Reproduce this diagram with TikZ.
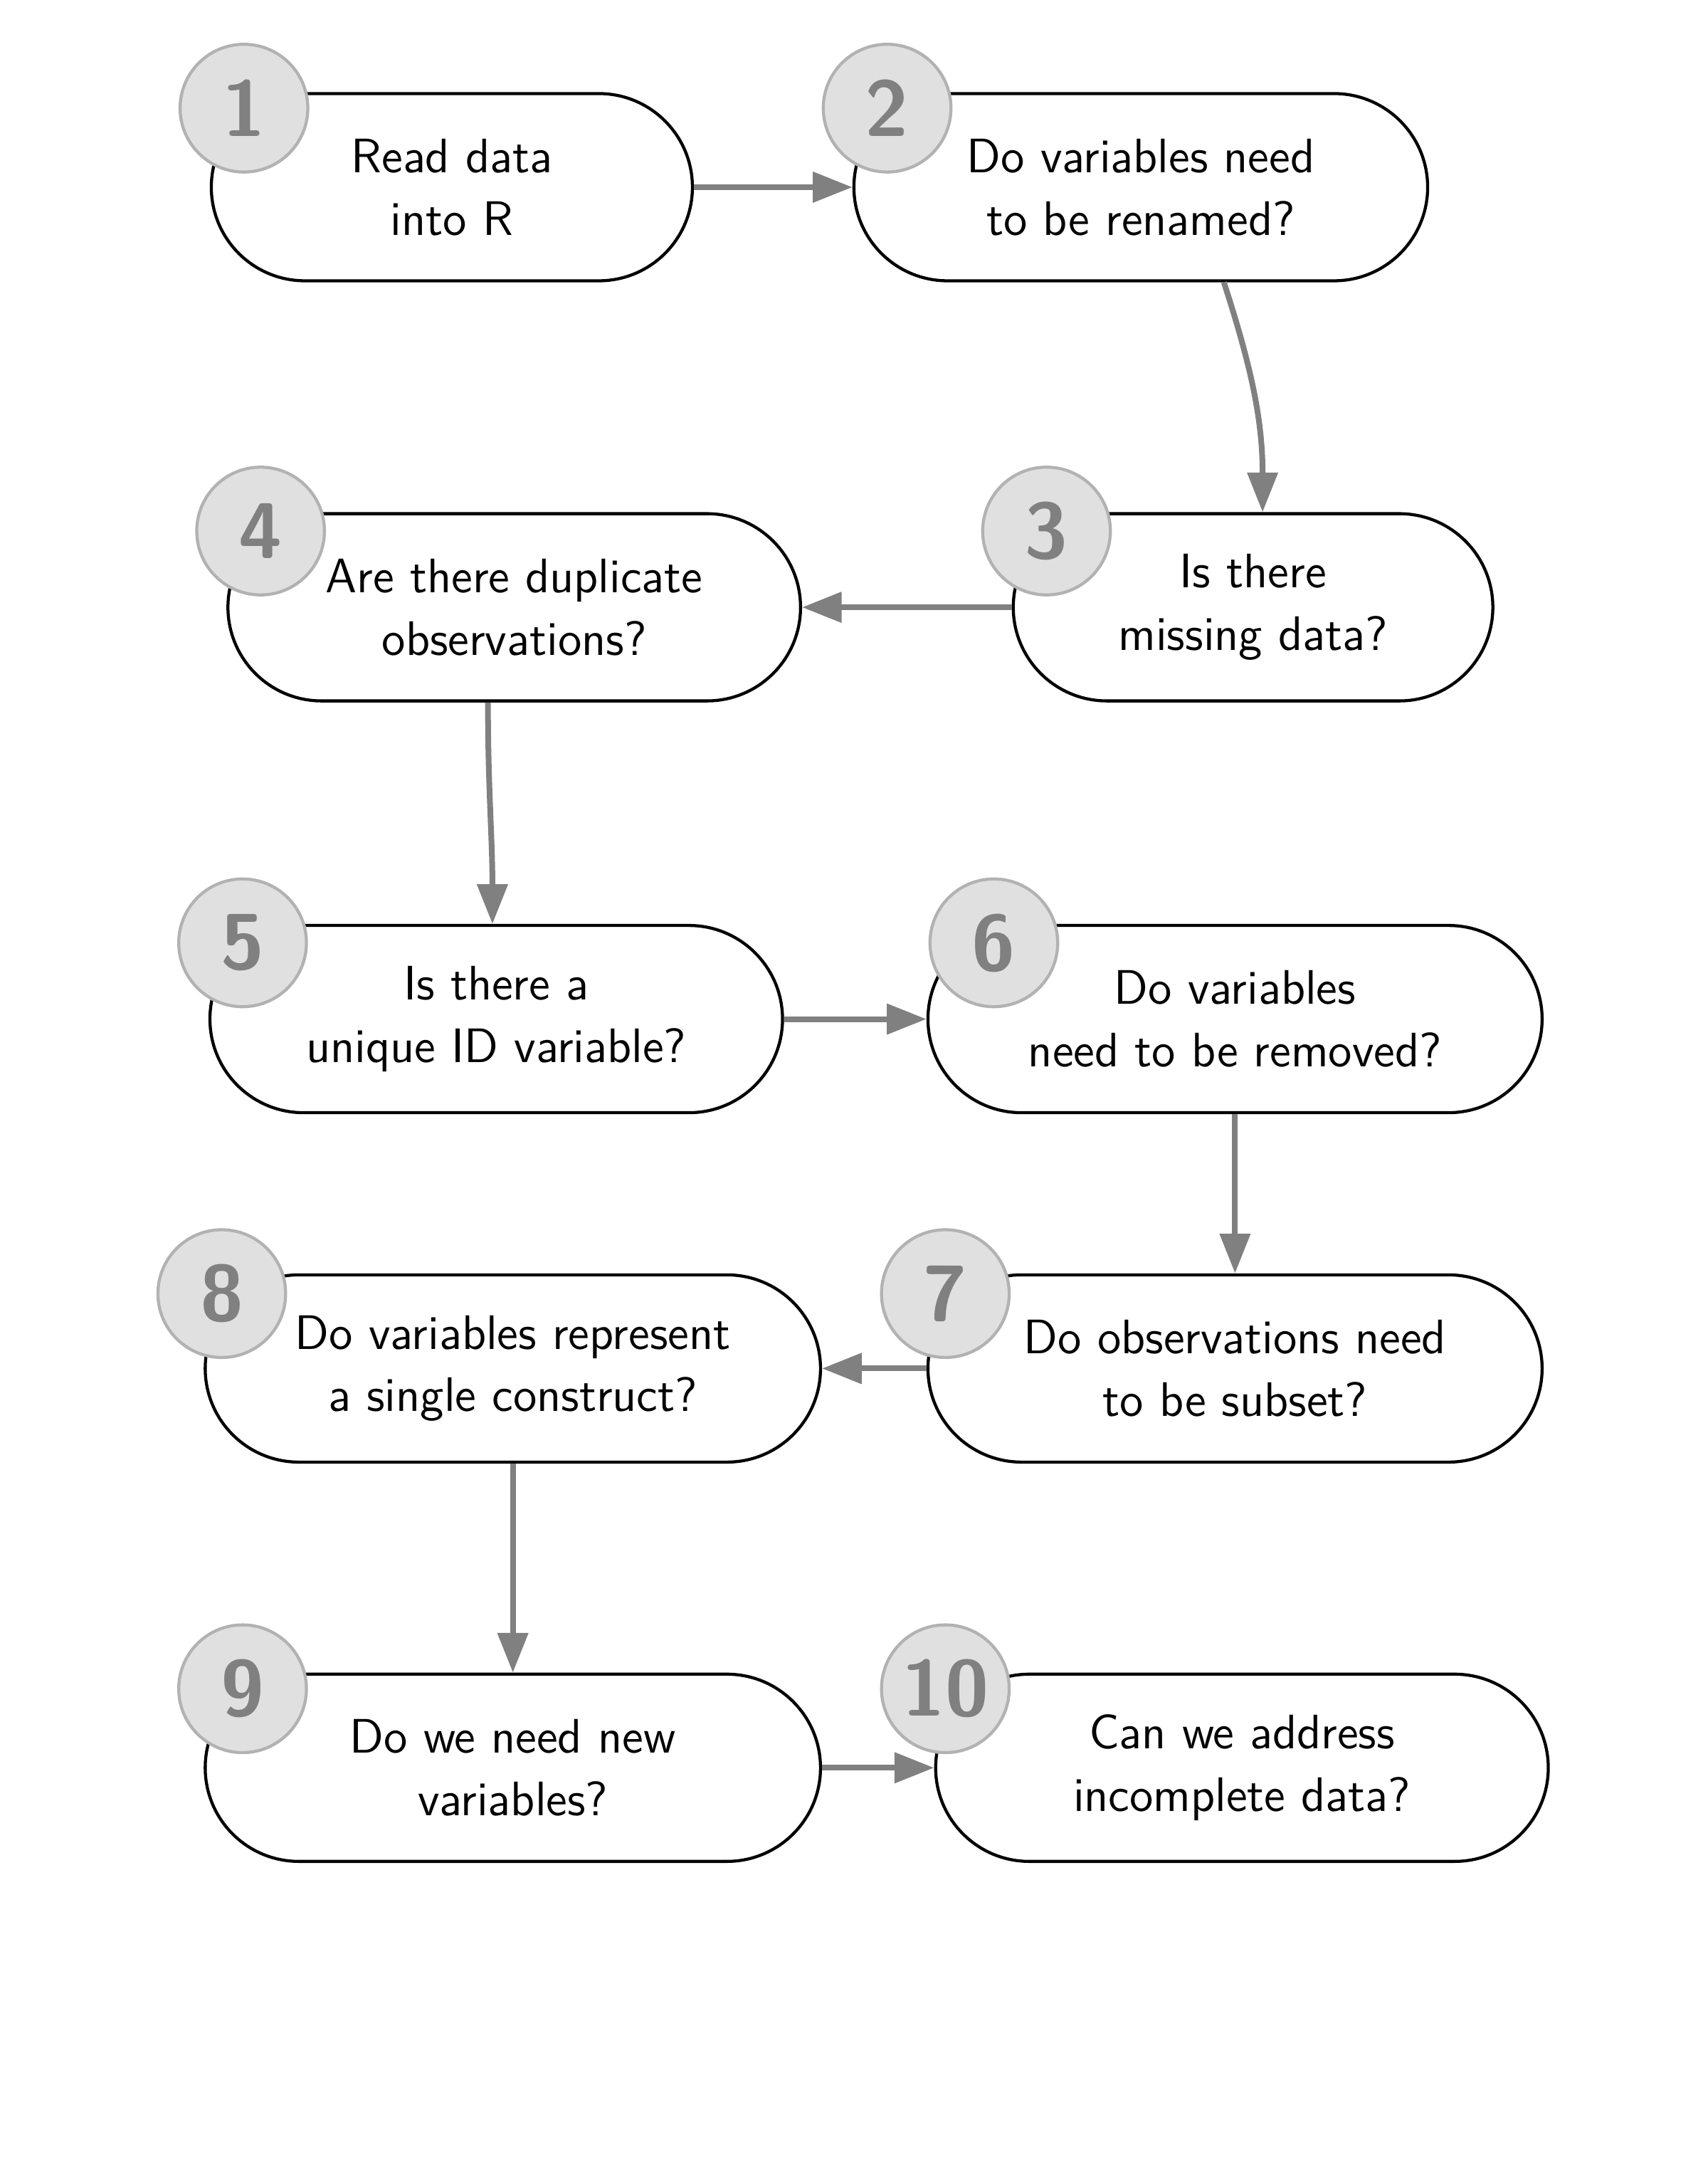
\documentclass[tikz,border=0pt]{standalone}
\usepackage{tikz}
\usetikzlibrary{arrows.meta,shapes.misc}

\begin{document}
\begin{tikzpicture}[x=0.3636pt, y=-0.3636pt,
	stepbox/.style={rounded rectangle, draw=black, line width=0.8pt, fill=white,
		minimum height=49.1pt, inner sep=0pt, align=center,
		font=\fontsize{12.7}{16.4}\selectfont\sffamily},
	numbadge/.style={circle, draw=black!30, line width=0.8pt, fill=black!12,
		text=black!50, minimum size=33.5pt, inner sep=0pt,
		font=\fontsize{20.74}{24}\selectfont\sffamily\bfseries},
	flowarrow/.style={draw=black!50, line width=1.5pt,
		-{Triangle[length=10.4pt, width=7.8pt]}}]
				\useasboundingbox (0,0) rectangle (1232,1568);
				
				% boxes
				\node[stepbox, minimum width=126.2pt] (n1) at (326,135) {Read data\\into R};
				\node[stepbox, minimum width=150.5pt] (n2) at (823,135) {Do variables need\\to be renamed?};
				\node[stepbox, minimum width=125.8pt] (n3) at (904,438) {Is there\\missing data?};
				\node[stepbox, minimum width=150.2pt] (n4) at (371,438) {Are there duplicate\\observations?};
				\node[stepbox, minimum width=150.2pt] (n5) at (358,735) {Is there a\\unique ID variable?};
				\node[stepbox, minimum width=161.1pt] (n6) at (891,735) {Do variables\\need to be removed?};
				\node[stepbox, minimum width=161.1pt] (n7) at (891,987) {Do observations need\\to be subset?};
				\node[stepbox, minimum width=161.4pt] (n8) at (370,987) {Do variables represent\\a single construct?};
				\node[stepbox, minimum width=161.4pt] (n9) at (370,1275) {Do we need new\\variables?};
				\node[stepbox, minimum width=160.7pt] (n10) at (896,1275) {Can we address\\incomplete data?};
				
				% arrows
				\draw[flowarrow] (n1.east) -- (n2.west);
				\draw[flowarrow] ([xshift=21.8pt]n2.south) to[out=-72, in=90] ([xshift=2.5pt]n3.north);
				\draw[flowarrow] (n3.west) -- (n4.east);
				\draw[flowarrow] ([xshift=-6.9pt]n4.south) to[out=-90, in=90] ([xshift=-1pt]n5.north);
				\draw[flowarrow] (n5.east) -- (n6.west);
				\draw[flowarrow] (n6.south) -- (n7.north);
				\draw[flowarrow] (n7.west) -- (n8.east);
				\draw[flowarrow] (n8.south) -- (n9.north);
				\draw[flowarrow] (n9.east) -- (n10.west);
				
				% numbers
				\node[numbadge] (b1) at (176,78) {1};
				\node[numbadge] (b2) at (640,78) {2};
				\node[numbadge] (b3) at (755,383) {3};
				\node[numbadge] (b4) at (188,383) {4};
				\node[numbadge] (b5) at (175,680) {5};
				\node[numbadge] (b6) at (717,680) {6};
				\node[numbadge] (b7) at (682,933) {7};
				\node[numbadge] (b8) at (160,933) {8};
				\node[numbadge] (b9) at (175,1218) {9};
				\node[numbadge] (b10) at (682,1218) {10};
			\end{tikzpicture}
\end{document}
